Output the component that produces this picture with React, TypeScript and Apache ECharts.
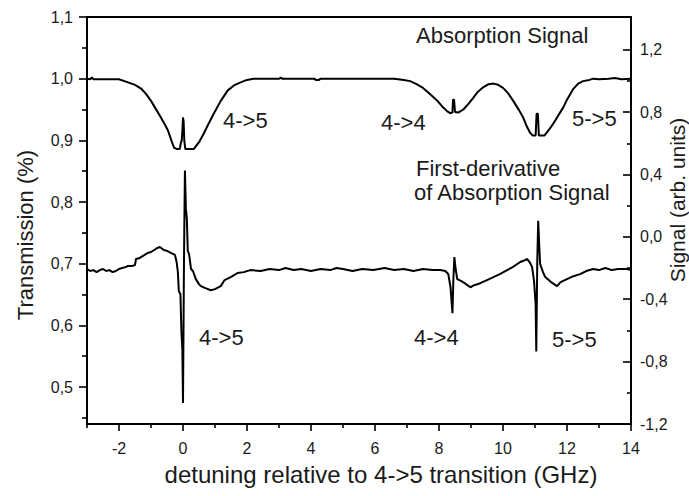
import React, { useEffect, useRef } from "react";
import * as echarts from "echarts";

// x: detuning (GHz), y: transmission (%)
const absorptionSignal: [number, number][] = [
  [-3.0, 1.0], [-2.9, 0.999], [-2.85, 1.002], [-2.8, 0.999], [-2.6, 0.999], [-2.3, 0.999],
  [-2.0, 0.999], [-1.72, 0.994], [-1.5, 0.99], [-1.31, 0.984], [-1.15, 0.975], [-1.0, 0.964],
  [-0.85, 0.951], [-0.69, 0.937], [-0.55, 0.924], [-0.47, 0.916], [-0.35, 0.898], [-0.28, 0.888],
  [-0.2, 0.886], [-0.1, 0.886], [-0.07, 0.895], [-0.04, 0.9], [-0.02, 0.915], [0.0, 0.937],
  [0.02, 0.93], [0.04, 0.9], [0.07, 0.886], [0.15, 0.886], [0.34, 0.886], [0.5, 0.897],
  [0.65, 0.911], [0.8, 0.927], [0.96, 0.943], [1.18, 0.964], [1.4, 0.981], [1.59, 0.989],
  [1.8, 0.994], [2.0, 0.998], [2.2, 1.0], [2.6, 1.0], [3.02, 1.0], [3.05, 1.002], [3.1, 1.0],
  [4.1, 1.0], [4.15, 0.998], [4.25, 0.998], [4.3, 1.0], [5.0, 1.0], [6.0, 1.0], [6.6, 1.0],
  [6.9, 0.998], [7.1, 0.996], [7.3, 0.991], [7.5, 0.985], [7.7, 0.976], [7.95, 0.964],
  [8.1, 0.955], [8.26, 0.947], [8.35, 0.944], [8.42, 0.945], [8.44, 0.966], [8.47, 0.966],
  [8.5, 0.946], [8.6, 0.945], [8.76, 0.95], [8.9, 0.958], [9.07, 0.969], [9.2, 0.978],
  [9.38, 0.986], [9.55, 0.991], [9.7, 0.992], [9.85, 0.99], [10.0, 0.985], [10.15, 0.977],
  [10.32, 0.964], [10.5, 0.949], [10.63, 0.937], [10.75, 0.922], [10.85, 0.912], [10.92, 0.908],
  [11.02, 0.908], [11.05, 0.943], [11.09, 0.943], [11.12, 0.908], [11.3, 0.908], [11.45, 0.918],
  [11.57, 0.927], [11.7, 0.938], [11.88, 0.953], [12.0, 0.966], [12.19, 0.983], [12.35, 0.992],
  [12.5, 0.996], [12.7, 0.998], [12.82, 1.0], [13.0, 0.999], [13.3, 1.0], [13.5, 1.001],
  [13.7, 0.999], [14.0, 1.0],
];

// x: detuning (GHz), y: signal (arb. units)
const derivativeSignal: [number, number][] = [
  [-3.0, -0.206], [-2.9, -0.219], [-2.8, -0.213], [-2.7, -0.226], [-2.6, -0.213], [-2.5, -0.206],
  [-2.4, -0.219], [-2.3, -0.213], [-2.2, -0.226], [-2.1, -0.219], [-2.0, -0.206], [-1.9, -0.2],
  [-1.8, -0.194], [-1.72, -0.187], [-1.6, -0.187], [-1.5, -0.181], [-1.47, -0.142], [-1.35, -0.135],
  [-1.2, -0.116], [-1.1, -0.103], [-1.0, -0.097], [-0.9, -0.084], [-0.8, -0.071], [-0.72, -0.065],
  [-0.6, -0.084], [-0.5, -0.09], [-0.38, -0.103], [-0.25, -0.116], [-0.2, -0.161], [-0.16, -0.226],
  [-0.13, -0.348], [-0.08, -0.368], [-0.05, -0.606], [-0.02, -0.723], [0.0, -1.065], [0.03, -0.174],
  [0.06, 0.426], [0.09, 0.181], [0.12, 0.116], [0.15, -0.09], [0.19, -0.11], [0.25, -0.206],
  [0.31, -0.219], [0.4, -0.271], [0.5, -0.303], [0.56, -0.316], [0.7, -0.329], [0.87, -0.342],
  [1.0, -0.335], [1.18, -0.316], [1.3, -0.277], [1.49, -0.258], [1.7, -0.232], [1.9, -0.226],
  [2.1, -0.213], [2.43, -0.219], [2.7, -0.206], [3.0, -0.213], [3.2, -0.2], [3.46, -0.213],
  [3.7, -0.206], [4.0, -0.219], [4.3, -0.206], [4.6, -0.213], [4.8, -0.2], [5.0, -0.206],
  [5.3, -0.219], [5.6, -0.206], [5.95, -0.213], [6.3, -0.2], [6.6, -0.213], [6.9, -0.206],
  [7.2, -0.219], [7.5, -0.206], [7.8, -0.213], [8.04, -0.213], [8.2, -0.219], [8.29, -0.239],
  [8.36, -0.323], [8.42, -0.49], [8.45, -0.271], [8.48, -0.129], [8.52, -0.206], [8.57, -0.271],
  [8.7, -0.284], [8.8, -0.297], [8.98, -0.323], [9.1, -0.31], [9.29, -0.297], [9.5, -0.277],
  [9.7, -0.258], [9.9, -0.239], [10.13, -0.213], [10.3, -0.194], [10.54, -0.161], [10.7, -0.148],
  [10.76, -0.142], [10.85, -0.168], [10.91, -0.194], [10.97, -0.284], [11.02, -0.432], [11.04, -0.735],
  [11.07, -0.174], [11.1, 0.103], [11.13, -0.045], [11.16, -0.174], [11.25, -0.226], [11.32, -0.258],
  [11.5, -0.29], [11.69, -0.316], [11.8, -0.29], [12.0, -0.271], [12.2, -0.252], [12.41, -0.239],
  [12.6, -0.219], [12.82, -0.206], [13.0, -0.213], [13.2, -0.2], [13.4, -0.213], [13.6, -0.206],
  [13.88, -0.206], [14.0, -0.213],
];

const xMajorTicks = [-2, 0, 2, 4, 6, 8, 10, 12, 14];
const xMinorTicks = [-3, -1, 1, 3, 5, 7, 9, 11, 13];
const transmissionTicks = [0.5, 0.6, 0.7, 0.8, 0.9, 1.0, 1.1];
const transmissionMinorTicks = [0.45, 0.55, 0.65, 0.75, 0.85, 0.95, 1.05];
const signalTicks = [-1.2, -0.8, -0.4, 0, 0.4, 0.8, 1.2];
const signalMinorTicks = [-1.0, -0.6, -0.2, 0.2, 0.6, 1.0];

const FONT = "Liberation Sans, Arial, Helvetica, sans-serif";
const INK = "#1a1a1a";

const comma = (v: number) => v.toFixed(1).replace(".", ",");

export default function App() {
  const ref = useRef<HTMLDivElement>(null);
  useEffect(() => {
    document.body.style.margin = "0";
    const chart = echarts.init(ref.current!, null, { renderer: "svg" });
    const axisLine = { show: true, onZero: false, lineStyle: { color: "#000", width: 2 } };
    const noLine = { show: false, onZero: false };
    const tickStyle = { color: "#000", width: 1.6 };
    const text = (t: string, x: number, y: number, size: number, align = "left", rotation = 0) => ({
      type: "text",
      x,
      y,
      rotation,
      style: { text: t, fontSize: size, fontFamily: FONT, fill: INK, align, verticalAlign: "middle" },
    });
    chart.setOption({
      animation: false,
      grid: { left: 87, right: 58, top: 17, bottom: 72 },
      xAxis: [
        {
          type: "value", min: -3, max: 14, position: "bottom",
          axisLine,
          splitLine: { show: false },
          axisTick: { show: true, customValues: xMajorTicks, length: 7, lineStyle: tickStyle },
          axisLabel: { customValues: xMajorTicks, fontSize: 16, fontFamily: FONT, color: INK, margin: 16, formatter: (v: number) => String(v) },
        },
        {
          type: "value", min: -3, max: 14, position: "bottom",
          axisLine: noLine,
          splitLine: { show: false },
          axisTick: { show: true, customValues: xMinorTicks, length: 4, lineStyle: tickStyle },
          axisLabel: { show: false },
        },
        {
          type: "value", min: -3, max: 14, position: "top",
          axisLine,
          splitLine: { show: false },
          axisTick: { show: false },
          axisLabel: { show: false },
        },
      ],
      yAxis: [
        {
          type: "value", min: 0.44, max: 1.1, position: "left",
          axisLine,
          splitLine: { show: false },
          axisTick: { show: true, customValues: transmissionTicks, length: 8, lineStyle: tickStyle },
          axisLabel: { customValues: transmissionTicks, fontSize: 16, fontFamily: FONT, color: INK, margin: 14, formatter: comma },
        },
        {
          type: "value", min: 0.44, max: 1.1, position: "left",
          axisLine: noLine,
          splitLine: { show: false },
          axisTick: { show: true, customValues: transmissionMinorTicks, length: 5, lineStyle: tickStyle },
          axisLabel: { show: false },
        },
        {
          type: "value", min: -1.2, max: 1.41, position: "right",
          axisLine,
          splitLine: { show: false },
          axisTick: { show: true, inside: true, customValues: signalTicks, length: 8, lineStyle: tickStyle },
          axisLabel: { customValues: signalTicks, fontSize: 16, fontFamily: FONT, color: INK, margin: 9, formatter: comma },
        },
        {
          type: "value", min: -1.2, max: 1.41, position: "right",
          axisLine: noLine,
          splitLine: { show: false },
          axisTick: { show: true, inside: true, customValues: signalMinorTicks, length: 4, lineStyle: tickStyle },
          axisLabel: { show: false },
        },
      ],
      series: [
        {
          type: "line", xAxisIndex: 0, yAxisIndex: 0, data: absorptionSignal,
          showSymbol: false, symbol: "none", lineStyle: { color: "#000", width: 2 }, z: 3,
        },
        {
          type: "line", xAxisIndex: 0, yAxisIndex: 2, data: derivativeSignal,
          showSymbol: false, symbol: "none", lineStyle: { color: "#000", width: 2 }, z: 3,
        },
      ],
      graphic: [
        text("Transmission (%)", 25, 235, 22, "center", Math.PI / 2),
        text("Signal (arb. units)", 677, 200, 21, "center", Math.PI / 2),
        text("detuning relative to 4->5 transition (GHz)", 381, 474, 24, "center"),
        text("Absorption Signal", 416, 35, 22),
        text("4->5", 223, 120, 22),
        text("4->4", 381, 122, 22),
        text("5->5", 572, 118, 22),
        text("First-derivative", 416, 168, 22),
        text("of Absorption Signal", 414, 192, 22),
        text("4->5", 199, 337, 22),
        text("4->4", 414, 337, 22),
        text("5->5", 552, 339, 22),
      ],
    });
    return () => chart.dispose();
  }, []);
  return <div ref={ref} style={{ position: "absolute", left: 0, top: 0, width: 689, height: 496 }} />;
}
